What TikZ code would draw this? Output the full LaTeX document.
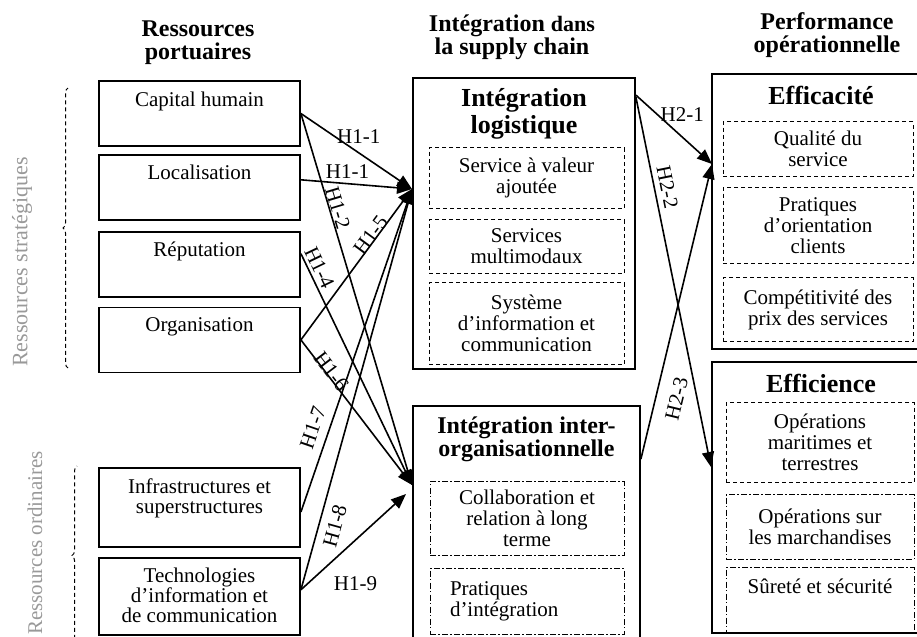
\documentclass[tikz,border=0pt]{standalone}
\usepackage{fontspec}
\setmainfont{Liberation Serif}
\usetikzlibrary{positioning,arrows.meta,decorations.pathreplacing}

\begin{document}
\begin{tikzpicture}[x=0.5pt,y=-0.5pt]
       \tikzset{resbox/.style={rectangle, draw, line width=0.9pt, minimum width=100.5pt,
                minimum height=32.5pt, inner sep=0pt}}
       \tikzset{restext/.style={anchor=north, align=center, inner sep=0pt, yshift=-5.5pt,
                font=\fontsize{10.5}{10}\selectfont}}
       \tikzset{bigbox/.style={rectangle, draw, line width=0.9pt, inner sep=0pt}}
       \tikzset{boxtitle/.style={anchor=north, align=center, inner sep=0pt,
                font=\bfseries\fontsize{13}{13.5}\selectfont}}
       \tikzset{subbox/.style={rectangle, draw, line width=0.5pt, inner sep=0pt, align=center,
                dash pattern=on 2pt off 1.5pt, font=\fontsize{10.5}{10.5}\selectfont}}
       \tikzset{subdashdot/.style={dash pattern=on 3pt off 1.2pt on 0.6pt off 1.2pt}}
       \tikzset{coltitle/.style={align=center, font=\bfseries\fontsize{12}{11.5}\selectfont}}
       \tikzset{grplab/.style={text=black!40, font=\fontsize{11}{11}\selectfont, rotate=90}}
       \tikzset{brdash/.style={line width=0.5pt, dash pattern=on 2pt off 1.5pt, decorate,
                decoration={brace, amplitude=2.5pt}}}
       \tikzset{hyp/.style={-{Triangle[length=7.5pt,width=6pt]}, line width=0.8pt}}
       \tikzset{hlab/.style={font=\fontsize{10.5}{10.5}\selectfont, inner sep=0pt}}

        \useasboundingbox (0,0) rectangle (917,637);

        % column titles
        \node[coltitle] (tres) at (198,43) {Ressources\\portuaires};
        \node[coltitle] (tint) at (512,37) {Intégration {\fontsize{11}{11}\selectfont dans}\\la supply chain};
        \node[coltitle] (tperf) at (827,35) {Performance\\opérationnelle};

        % port resources
        \node[resbox, label={[restext]north:Capital humain}] (cap) at (199.5,113.5) {};
        \node[resbox, below=3.5pt of cap, label={[restext]north:Localisation}] (loc) {};
        \node[resbox, below=5pt of loc, label={[restext]north:Réputation}] (rep) {};
        \node[resbox, below=4.5pt of rep, label={[restext]north:Organisation}] (org) {};
        \node[resbox, minimum height=39.5pt,
              label={[restext]north:Infrastructures et\\superstructures}] (infra) at (199.5,507.5) {};
        \node[resbox, minimum height=38.5pt, below=4.5pt of infra,
              label={[restext]north:Technologies\\d’information et\\de communication}] (tech) {};

        \node[grplab] (strat) at (22,262) {Ressources stratégiques};
        \node[grplab, font=\fontsize{10.5}{10.5}\selectfont] (ordi) at (35,543) {Ressources ordinaires};
        \draw[brdash] (68,368) -- (68,88);
        \draw[brdash] (77,645) -- (77,466);

        % supply chain integration
        \node[bigbox, minimum width=111pt, minimum height=145.5pt,
              label={[boxtitle, yshift=-5.25pt]north:Intégration\\logistique}] (logi) at (524,223.5) {};
        \node[subbox, minimum width=97.5pt, minimum height=30.5pt, anchor=north] (svc) at (526.5,147)
              {Service à valeur\\ajoutée};
        \node[subbox, minimum width=97.5pt, minimum height=27pt, below=5pt of svc] (multi)
              {Services\\multimodaux};
        \node[subbox, minimum width=97.5pt, minimum height=41pt, below=4pt of multi] (sys)
              {Système\\d’information et\\communication};

        \node[bigbox, minimum width=113.5pt, minimum height=122pt,
              label={[boxtitle, yshift=-5.5pt, font=\bfseries\fontsize{12}{11.5}\selectfont]north:Intégration inter-\\organisationnelle}]
              (inter) at (526.5,528) {};
        \node[subbox, subdashdot, minimum width=97pt, minimum height=37pt, anchor=north] (collab) at (527,481)
              {Collaboration et\\relation à long\\terme};
        \node[subbox, subdashdot, minimum width=97pt, minimum height=33pt, below=6pt of collab,
              align=left, text width=77pt, inner xsep=10pt] (prat)
              {Pratiques\\d’intégration};

        % operational performance
        \node[bigbox, minimum width=109pt, minimum height=137.5pt,
              label={[boxtitle, yshift=-6.25pt]north:Efficacité}] (effca) at (821,211.5) {};
        \node[subbox, minimum width=95pt, minimum height=27.5pt, anchor=north] (qual) at (818,121)
              {Qualité du\\service};
        \node[subbox, minimum width=95pt, minimum height=38pt, below=5pt of qual] (orient)
              {Pratiques\\d’orientation\\clients};
        \node[subbox, minimum width=95pt, minimum height=32pt, below=6.5pt of orient] (compet)
              {Compétitivité des\\prix des services};

        \node[bigbox, minimum width=109pt, minimum height=135.5pt,
              label={[boxtitle, yshift=-6.25pt]north:Efficience}] (effci) at (821,497.5) {};
        \node[subbox, minimum width=94pt, minimum height=40pt, anchor=north] (mar) at (820,402)
              {Opérations\\maritimes et\\terrestres};
        \node[subbox, subdashdot, minimum width=94pt, minimum height=32.5pt, below=5.5pt of mar] (march)
              {Opérations sur\\les marchandises};
        \node[subbox, subdashdot, minimum width=94pt, minimum height=33pt, below=3.5pt of march,
              text depth=14pt] (surete)
              {Sûreté et sécurité};

        % arrow ends
        \coordinate (inLogi) at (412,189);
        \coordinate (inInter) at (412,485);
        \coordinate (inTech) at (406,494);
        \coordinate (inEffca) at (712,164);
        \coordinate (inEffci) at (711,467);

        % hypotheses H1
        \draw[hyp] (cap.east) -- (inLogi) node[hlab, pos=0.52, above=4pt] {H1-1};
        \draw[hyp] ([yshift=3.75pt]loc.east) -- (inLogi) node[hlab, pos=0.42, above=2pt] {H1-1};
        \draw[hyp] (cap.east) -- (inInter) node[hlab, pos=0.26, sloped, above=0.3pt] {H1-2};
        \draw[hyp] ([yshift=5.25pt]rep.east) -- (inInter) node[hlab, pos=0.08, sloped, above=1.5pt] {H1-4};
        \draw[hyp] (org.east) -- (inLogi) node[hlab, pos=0.67, sloped, above=-1pt] {H1-5};
        \draw[hyp] (org.east) -- (inInter) node[hlab, pos=0.24, sloped, above=-1.5pt] {H1-6};
        \draw[hyp] ([yshift=-2.25pt]infra.east) -- (inLogi) node[hlab, pos=0.245, sloped, above=4.25pt] {H1-7};
        \draw[hyp] ([yshift=3.25pt]tech.east) -- (inLogi) node[hlab, pos=0.17, sloped, below=3.9pt] {H1-8};
        \draw[hyp] ([yshift=3.25pt]tech.east) -- (inTech) node[hlab, pos=0.52, below=18pt] {H1-9};

        % hypotheses H2
        \draw[hyp] ([yshift=-9pt]logi.north east) -- (inEffca) node[hlab, pos=0.61, above=7.5pt] {H2-1};
        \draw[hyp] ([yshift=-10pt]logi.north east) -- (inEffci) node[hlab, pos=0.25, sloped, above=2.6pt] {H2-2};
        \draw[hyp] ([yshift=-27pt]inter.north east) -- (inEffca) node[hlab, pos=0.22, sloped, below=6.4pt] {H2-3};

\end{tikzpicture}
\end{document}
